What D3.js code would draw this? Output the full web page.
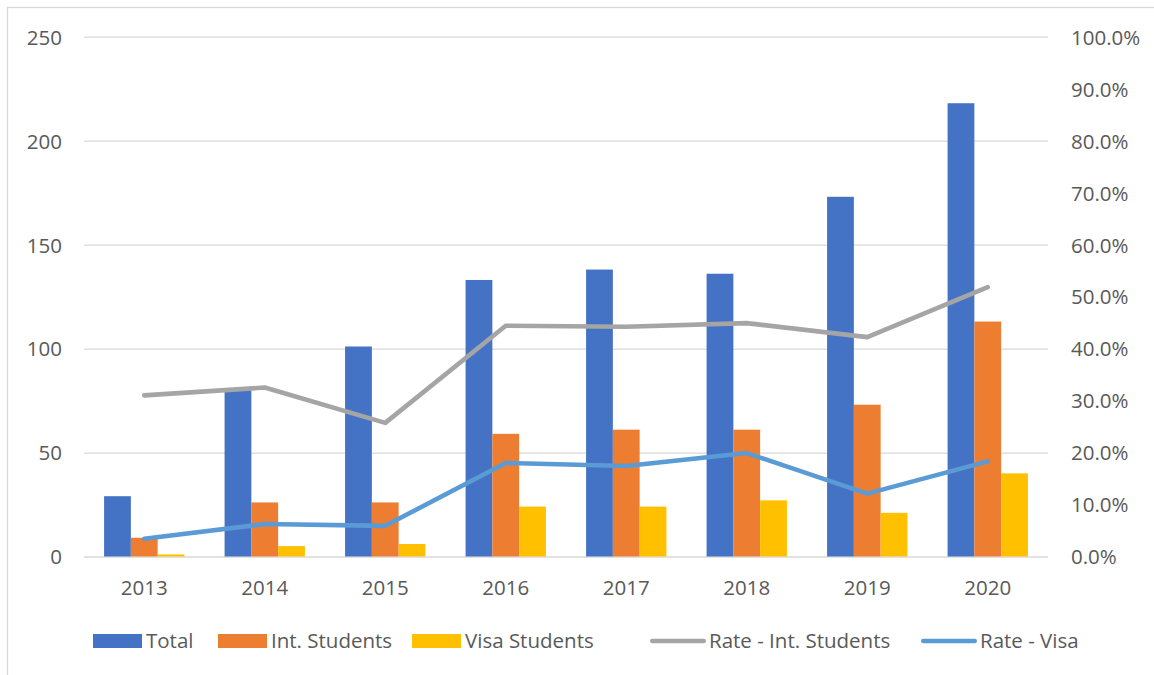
<!DOCTYPE html>
<html>
<head>
<meta charset="utf-8">
<script src="https://cdn.jsdelivr.net/npm/d3@7"></script>
<style>
  body { margin: 0; background: #fff; }
  svg { display: block; }
  text { font-family: "Open Sans", "Liberation Sans", sans-serif; fill: #595959; }
</style>
</head>
<body>
<svg id="chart" width="1154" height="675"></svg>
<script>
// Student counts per year and the derived rates
const years = ["2013", "2014", "2015", "2016", "2017", "2018", "2019", "2020"];
const total = [29, 80, 101, 133, 138, 136, 173, 218];
const intStudents = [9, 26, 26, 59, 61, 61, 73, 113];
const visaStudents = [1, 5, 6, 24, 24, 27, 21, 40];
const rateInt = [0.310, 0.325, 0.257, 0.444, 0.442, 0.449, 0.422, 0.518];
const rateVisa = [0.034, 0.0625, 0.059, 0.180, 0.174, 0.199, 0.121, 0.183];
const leftTicks = [0, 50, 100, 150, 200, 250];
const rightTicks = [0, 0.1, 0.2, 0.3, 0.4, 0.5, 0.6, 0.7, 0.8, 0.9, 1.0];

const barSeries = [
  { key: "Total", values: total, color: "#4472C4" },
  { key: "Int. Students", values: intStudents, color: "#ED7D31" },
  { key: "Visa Students", values: visaStudents, color: "#FFC000" }
];
const lineSeries = [
  { key: "Rate - Int. Students", values: rateInt, color: "#A5A5A5" },
  { key: "Rate - Visa", values: rateVisa, color: "#5B9BD5" }
];

const svg = d3.select("#chart");
const fontSize = 20.5;
const plot = { left: 84, right: 1048, top: 36.7, bottom: 556.5 };

// outer chart frame
svg.append("rect")
  .attr("x", 7.5).attr("y", 7.5)
  .attr("width", 1170).attr("height", 690)
  .attr("fill", "#fff").attr("stroke", "#d9d9d9").attr("stroke-width", 1.3);

const x = d3.scaleBand().domain(years)
  .range([plot.left, plot.right])
  .paddingInner(1 / 3).paddingOuter(1 / 6);
const xs = d3.scaleBand().domain(barSeries.map(s => s.key)).range([0, x.bandwidth()]);
const yL = d3.scaleLinear().domain([0, 250]).range([plot.bottom, plot.top]);
const yR = d3.scaleLinear().domain([0, 1]).range([plot.bottom, plot.top]);

// horizontal gridlines
const grid = svg.append("g")
  .attr("transform", `translate(${plot.left},0)`)
  .call(d3.axisLeft(yL).tickValues(leftTicks).tickSize(-(plot.right - plot.left)).tickFormat(""));
grid.select(".domain").remove();
grid.selectAll("line").attr("stroke", "#d9d9d9").attr("stroke-width", 1.3);

// clustered bars
const groups = svg.append("g").selectAll("g")
  .data(barSeries).join("g")
  .attr("fill", d => d.color);
groups.selectAll("rect")
  .data(s => s.values.map((v, i) => ({ key: s.key, year: years[i], v })))
  .join("rect")
  .attr("x", d => x(d.year) + xs(d.key))
  .attr("width", xs.bandwidth())
  .attr("y", d => yL(d.v))
  .attr("height", d => yL(0) - yL(d.v));

// rate lines on the secondary axis
const line = d3.line()
  .x((v, i) => x(years[i]) + x.bandwidth() / 2)
  .y(v => yR(v));
svg.append("g").selectAll("path")
  .data(lineSeries).join("path")
  .attr("d", s => line(s.values))
  .attr("fill", "none")
  .attr("stroke", s => s.color)
  .attr("stroke-width", 4.6)
  .attr("stroke-linecap", "round")
  .attr("stroke-linejoin", "round");

// axes
function styleAxis(g) {
  g.select(".domain").remove();
  g.selectAll("line").remove();
  g.selectAll("text").style("font-size", fontSize + "px").attr("fill", "#595959");
}
svg.append("g")
  .attr("transform", `translate(${plot.left},0)`)
  .call(d3.axisLeft(yL).tickValues(leftTicks).tickSize(0).tickPadding(22))
  .call(styleAxis)
  .selectAll("text").attr("dy", "0.36em");

svg.append("g")
  .attr("transform", `translate(${plot.right},0)`)
  .call(d3.axisRight(yR).tickValues(rightTicks).tickSize(0).tickPadding(23).tickFormat(d3.format(".1%")))
  .call(styleAxis)
  .selectAll("text").attr("dy", "0.36em");

svg.append("g")
  .attr("transform", `translate(0,${plot.bottom})`)
  .call(d3.axisBottom(x).tickSize(0).tickPadding(24))
  .call(styleAxis);

// legend
const legendItems = [
  { key: "Total", type: "bar", color: "#4472C4", x: 93 },
  { key: "Int. Students", type: "bar", color: "#ED7D31", x: 218 },
  { key: "Visa Students", type: "bar", color: "#FFC000", x: 412 },
  { key: "Rate - Int. Students", type: "line", color: "#A5A5A5", x: 650 },
  { key: "Rate - Visa", type: "line", color: "#5B9BD5", x: 921 }
];
const legendY = 641;
const legend = svg.append("g").selectAll("g")
  .data(legendItems).join("g")
  .attr("transform", d => `translate(${d.x},${legendY})`);
legend.filter(d => d.type === "bar").append("rect")
  .attr("x", 0).attr("y", -7).attr("width", 49).attr("height", 14)
  .attr("fill", d => d.color);
legend.filter(d => d.type === "line").append("line")
  .attr("x1", 2.3).attr("x2", 53.7).attr("y1", 0).attr("y2", 0)
  .attr("stroke", d => d.color).attr("stroke-width", 4.6).attr("stroke-linecap", "round");
legend.append("text")
  .attr("x", d => d.type === "bar" ? 53 : 59)
  .attr("dy", "0.36em")
  .style("font-size", fontSize + "px")
  .text(d => d.key);
</script>
</body>
</html>
